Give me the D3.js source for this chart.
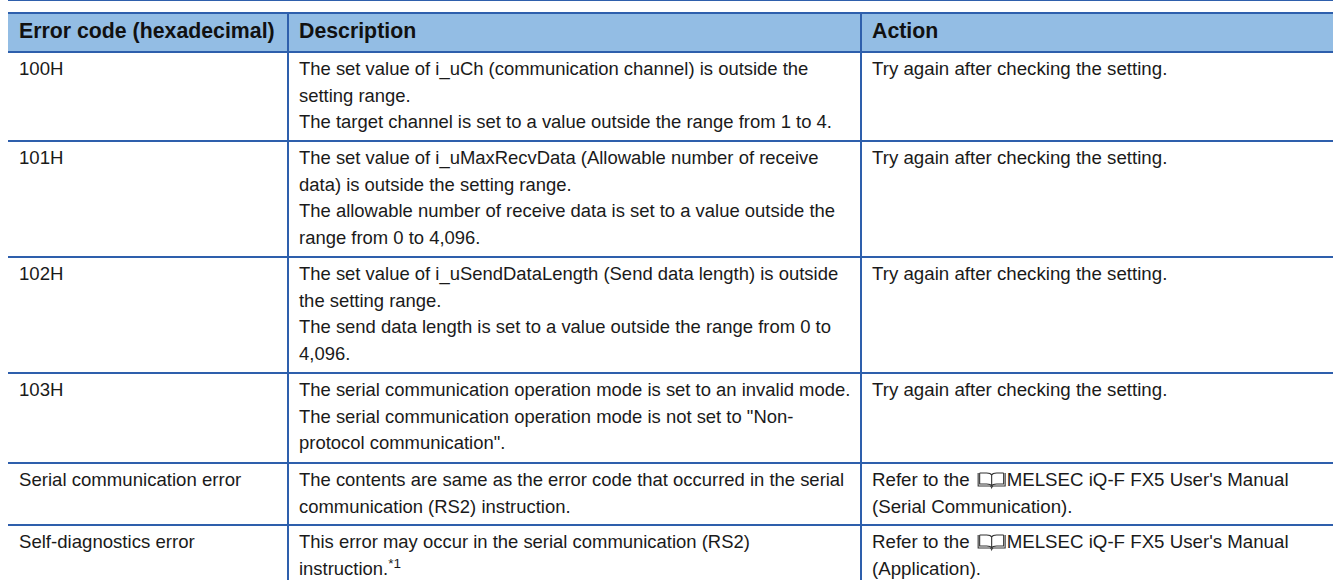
<!DOCTYPE html>
<html><head><meta charset="utf-8">
<style>html,body{margin:0;padding:0;background:#fff;}svg{display:block;}text{font-family:"Liberation Sans",Arial,sans-serif;font-size:18.6px;fill:#1a1a1a;}</style>
<script src="https://cdn.jsdelivr.net/npm/d3@7/dist/d3.min.js"></script>
</head><body><svg id="c" width="1333" height="580"></svg>
<script>
const headers = ["Error code (hexadecimal)", "Description", "Action"];
const codes = ["100H","101H","102H","103H","Serial communication error","Self-diagnostics error"];
const descriptions = [
 ["The set value of i_uCh (communication channel) is outside the","setting range.","The target channel is set to a value outside the range from 1 to 4."],
 ["The set value of i_uMaxRecvData (Allowable number of receive","data) is outside the setting range.","The allowable number of receive data is set to a value outside the","range from 0 to 4,096."],
 ["The set value of i_uSendDataLength (Send data length) is outside","the setting range.","The send data length is set to a value outside the range from 0 to","4,096."],
 ["The serial communication operation mode is set to an invalid mode.","The serial communication operation mode is not set to \"Non-","protocol communication\"."],
 ["The contents are same as the error code that occurred in the serial","communication (RS2) instruction."],
 ["This error may occur in the serial communication (RS2)","instruction.|*1"]
];
const actions = [
 ["Try again after checking the setting."],["Try again after checking the setting."],
 ["Try again after checking the setting."],["Try again after checking the setting."],
 ["Refer to the @MELSEC iQ-F FX5 User's Manual","(Serial Communication)."],
 ["Refer to the @MELSEC iQ-F FX5 User's Manual","(Application)."]
];
const rowBounds = [52,141,257,373,463,525,580];
const colBounds = [8,288,861,1333];
const blue="#2e5fac", headFill="#93bde4";
const svg=d3.select("#c");
const x=d3.scaleOrdinal().domain([0,1,2]).range(colBounds.slice(0,3));
const rowIdx=d3.range(codes.length);
const y=d3.scaleOrdinal().domain(rowIdx).range(rowBounds.slice(0,6));
svg.append("rect").attr("x",8).attr("y",13).attr("width",1325).attr("height",39).attr("fill",headFill);
svg.append("line").attr("x1",8).attr("x2",1333).attr("y1",0.5).attr("y2",0.5).attr("stroke",blue).attr("stroke-width",1);
svg.append("g").selectAll("line").data([13].concat(rowBounds.slice(0,6))).join("line")
 .attr("x1",8).attr("x2",1333).attr("y1",d=>d).attr("y2",d=>d).attr("stroke",blue).attr("stroke-width",2);
svg.append("g").selectAll("line").data([colBounds[1],colBounds[2]]).join("line")
 .attr("x1",d=>d).attr("x2",d=>d).attr("y1",13).attr("y2",580).attr("stroke",blue).attr("stroke-width",2);
svg.append("g").selectAll("text").data(headers).join("text")
 .attr("x",(d,i)=>x(i)+11).attr("y",38).style("font-weight","bold").style("font-size","21.3px").style("fill","#111").text(d=>d);
function drawLine(g,str,px,py,fs){
 const t=g.append("text").attr("x",px).attr("y",py).style("font-size",fs+"px");
 if(str.includes("|")){const [a,b]=str.split("|");t.text(a);t.append("tspan").attr("dy",-7).style("font-size","13.5px").text(b);}
 else if(str.includes("@")){const [a,b]=str.split("@");t.text(a+" ");
  const w=t.node().getComputedTextLength();
  const bx=px+w+8;
  const b2=g.append("g").attr("transform",`translate(${bx},${py-13})`).attr("fill","none").attr("stroke","#333").attr("stroke-width",1.1);
  b2.append("path").attr("d","M0.5,0V13H12Q13.5,13 14,14.5Q14.5,13 16,13H27.5V0");
  b2.append("path").attr("d","M2,0V11H9Q13,11 14,13V2Q13,0 9,0H2M26,0V11H19Q15,11 14,13M14,2Q15,0 19,0H26");
  g.append("text").attr("x",bx+29).attr("y",py).style("font-size",fs+"px").text(b);
 } else t.text(str);
}
const lineStep=26.5;
rowIdx.forEach(i=>{
 const g=svg.append("g");
 const base=y(i)+23;
 drawLine(g,codes[i],x(0)+11,base,18.6);
 descriptions[i].forEach((s,k)=>drawLine(g,s,x(1)+11,base+k*lineStep,18.45));
 actions[i].forEach((s,k)=>drawLine(g,s,x(2)+11,base+k*lineStep,18.7));
});
</script></body></html>
